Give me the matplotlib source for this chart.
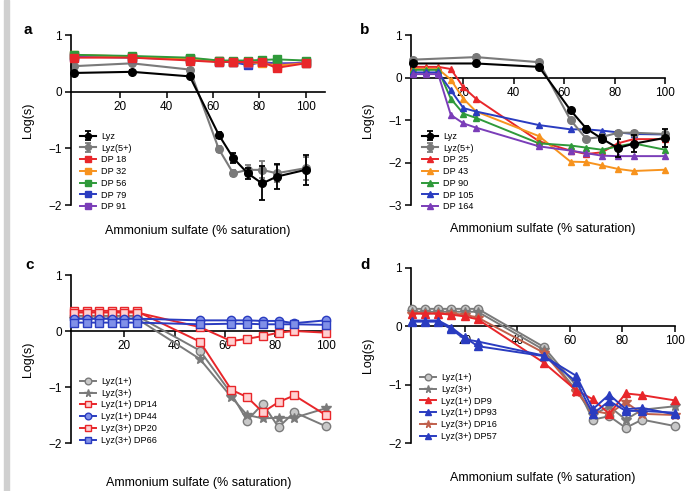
import matplotlib.pyplot as plt
from matplotlib.patches import Rectangle

plt.rcParams['font.family'] = ['Liberation Sans', 'DejaVu Sans']

# Ammonium sulfate levels (% saturation)
x_short = [0, 25, 50, 62.5, 68.75, 75, 81.25, 87.5, 100]
x_long = [0, 5, 10, 15, 20, 25, 50, 62.5, 68.75, 75, 81.25, 87.5, 100]

# Panel a: lysozyme and conjugates, log solubility
a_lyz = [0.33, 0.35, 0.27, -0.76, -1.17, -1.44, -1.62, -1.5, -1.38]
a_lyz_err = [0.03, 0.03, 0.03, 0.05, 0.08, 0.1, 0.3, 0.22, 0.26]
a_lyz5 = [0.45, 0.5, 0.39, -1.01, -1.44, -1.38, -1.38, -1.44, -1.35]
a_lyz5_err = [0.03, 0.03, 0.03, 0.05, 0.05, 0.08, 0.15, 0.15, 0.2]
a_dp18 = [0.6, 0.6, 0.55, 0.52, 0.53, 0.52, 0.52, 0.42, 0.5]
a_dp32 = [0.65, 0.62, 0.58, 0.55, 0.53, 0.52, 0.5, 0.46, 0.5]
a_dp56 = [0.65, 0.63, 0.6, 0.55, 0.55, 0.55, 0.56, 0.57, 0.55]
a_dp79 = [0.62, 0.6, 0.57, 0.53, 0.52, 0.47, 0.52, 0.5, 0.5]
a_dp91 = [0.63, 0.61, 0.58, 0.54, 0.53, 0.5, 0.52, 0.48, 0.52]

# Panel b
b_lyz = [0.33, 0.33, 0.25, -0.77, -1.2, -1.44, -1.66, -1.56, -1.42]
b_lyz_err = [0.03, 0.03, 0.03, 0.05, 0.06, 0.08, 0.22, 0.2, 0.22]
b_lyz5 = [0.42, 0.48, 0.36, -1.0, -1.44, -1.4, -1.3, -1.3, -1.33]
b_dp25 = [0.25, 0.25, 0.25, 0.2, -0.23, -0.5, -1.5, -1.72, -1.8, -1.76, -1.55, -1.45, -1.45]
b_dp43 = [0.2, 0.2, 0.2, -0.05, -0.5, -0.8, -1.38, -1.98, -1.99, -2.07, -2.15, -2.2, -2.17]
b_dp90 = [0.18, 0.18, 0.18, -0.5, -0.85, -0.95, -1.55, -1.6, -1.65, -1.7, -1.62, -1.55, -1.7]
b_dp105 = [0.12, 0.12, 0.12, -0.3, -0.72, -0.8, -1.12, -1.22, -1.22, -1.25, -1.29, -1.33, -1.34]
b_dp164 = [0.08, 0.08, 0.08, -0.88, -1.08, -1.18, -1.62, -1.72, -1.78, -1.84, -1.85, -1.85, -1.85]

# Panel c
c_lyz1 = [0.27, 0.27, 0.27, 0.27, 0.27, 0.27, -0.35, -1.12, -1.6, -1.3, -1.72, -1.45, -1.7]
c_lyz3 = [0.22, 0.22, 0.22, 0.22, 0.22, 0.22, -0.5, -1.18, -1.5, -1.56, -1.55, -1.55, -1.38]
c_dp14 = [0.36, 0.36, 0.36, 0.36, 0.35, 0.35, -0.19, -1.05, -1.18, -1.45, -1.27, -1.15, -1.5]
c_dp44 = [0.22, 0.22, 0.22, 0.22, 0.22, 0.22, 0.19, 0.19, 0.19, 0.18, 0.18, 0.14, 0.19]
c_dp20 = [0.33, 0.33, 0.33, 0.33, 0.33, 0.33, 0.07, -0.18, -0.14, -0.09, -0.03, 0.0, -0.03]
c_dp66 = [0.15, 0.15, 0.15, 0.15, 0.15, 0.15, 0.12, 0.13, 0.13, 0.12, 0.12, 0.12, 0.11]

# Panel d
d_lyz1 = [0.3, 0.3, 0.3, 0.3, 0.3, 0.3, -0.35, -1.02, -1.6, -1.54, -1.74, -1.6, -1.71]
d_lyz3 = [0.25, 0.25, 0.25, 0.25, 0.25, 0.25, -0.4, -1.1, -1.52, -1.37, -1.6, -1.43, -1.37]
d_dp9 = [0.22, 0.22, 0.22, 0.2, 0.17, 0.12, -0.62, -1.1, -1.25, -1.5, -1.15, -1.18, -1.27]
d_dp93 = [0.1, 0.1, 0.1, -0.02, -0.19, -0.34, -0.51, -0.85, -1.42, -1.17, -1.42, -1.4, -1.51]
d_dp16 = [0.22, 0.22, 0.22, 0.22, 0.2, 0.15, -0.45, -1.12, -1.45, -1.5, -1.3, -1.5, -1.52]
d_dp57 = [0.08, 0.08, 0.08, -0.05, -0.22, -0.26, -0.5, -0.95, -1.5, -1.28, -1.45, -1.45, -1.48]

RED = '#e8262a'
ORANGE = '#f7931e'
GREEN = '#2f9a3a'
BLUE = '#2a3cc0'
PURPLE = '#7a3db8'
GRAY = '#7a7a7a'
BROWN = '#c0604c'

fig = plt.figure(figsize=(6.88, 4.91), dpi=100)
W, H = 688.0, 491.0


def make_axes(left, top, right, bottom):
    return fig.add_axes([left / W, 1 - bottom / H, (right - left) / W, (bottom - top) / H])


def style(ax, xlim, ymin, lx, ly, ylx, legend_xy, order):
    ax.set_xlim(*xlim)
    ax.set_ylim(ymin, 1)
    for side in ['top', 'right']:
        ax.spines[side].set_visible(False)
    ax.spines['bottom'].set_position(('data', 0))
    for side in ['left', 'bottom']:
        ax.spines[side].set_linewidth(1.2)
    ax.set_xticks([20, 40, 60, 80, 100])
    ax.set_yticks(range(ymin, 2))
    ax.tick_params(labelsize=8.5, length=4, width=1.1, pad=2.5)
    ax.set_xlabel('Ammonium sulfate (% saturation)', fontsize=9)
    ax.set_ylabel('Log(s)', fontsize=9)
    ax.xaxis.set_label_coords(lx, ly)
    ax.yaxis.set_label_coords(ylx, 0.5)
    ax.patch.set_alpha(0)

    # keep legend entries in plotting order (errorbar handles come last otherwise)
    handles, labels = ax.get_legend_handles_labels()
    lookup = dict(zip(labels, handles))
    ax.legend([lookup[k] for k in order], order, loc='upper left', bbox_to_anchor=legend_xy,
              fontsize=6.6, frameon=False, handlelength=1.8, handletextpad=0.5,
              labelspacing=0.3, borderpad=0, borderaxespad=0, markerscale=0.8)


def series(ax, x, y, color, marker, label, mfc=None, ms=5, z=3):
    ax.plot(x, y, color=color, marker=marker, ms=ms, lw=1.4, label=label,
            mfc=mfc if mfc else color, mec=color, clip_on=False, zorder=z)


def with_errors(ax, x, y, err, color, label, z):
    ax.errorbar(x, y, yerr=err, color=color, marker='o', ms=5.5, lw=1.5, capsize=2.5,
                elinewidth=1.3, capthick=1.3, label=label, clip_on=False, zorder=z)


# a
ax = make_axes(71, 35, 325, 205)
with_errors(ax, x_short, a_lyz5, a_lyz5_err, GRAY, 'Lyz(5+)', 2)
with_errors(ax, x_short, a_lyz, a_lyz_err, 'black', 'Lyz', 2.5)
series(ax, x_short, a_dp79, BLUE, 's', 'DP 79', ms=6, z=3)
series(ax, x_short, a_dp91, PURPLE, 's', 'DP 91', ms=6, z=3)
series(ax, x_short, a_dp32, ORANGE, 's', 'DP 32', ms=6, z=4)
series(ax, x_short, a_dp56, GREEN, 's', 'DP 56', ms=6, z=5)
series(ax, x_short, a_dp18, RED, 's', 'DP 18', ms=6, z=6)
style(ax, (-1.3, 108.4), -2, 0.5, -0.118, -0.146, (0.035, 0.43),
      ['Lyz', 'Lyz(5+)', 'DP 18', 'DP 32', 'DP 56', 'DP 79', 'DP 91'])

# b
ax = make_axes(411, 35, 665, 205)
series(ax, x_long, b_dp25, RED, '^', 'DP 25')
series(ax, x_long, b_dp43, ORANGE, '^', 'DP 43')
series(ax, x_long, b_dp90, GREEN, '^', 'DP 90')
series(ax, x_long, b_dp105, BLUE, '^', 'DP 105')
series(ax, x_long, b_dp164, PURPLE, '^', 'DP 164')
with_errors(ax, x_short, b_lyz5, 0.05, GRAY, 'Lyz(5+)', 5)
with_errors(ax, x_short, b_lyz, b_lyz_err, 'black', 'Lyz', 6)
style(ax, (-0.8, 100), -3, 0.52, -0.105, -0.146, (0.042, 0.43),
      ['Lyz', 'Lyz(5+)', 'DP 25', 'DP 43', 'DP 90', 'DP 105', 'DP 164'])

# c
ax = make_axes(71, 275, 327, 443)
series(ax, x_long, c_lyz1, GRAY, 'o', 'Lyz(1+)', mfc='#c8c8c8', ms=6)
series(ax, x_long, c_lyz3, GRAY, '*', 'Lyz(3+)', ms=7)
series(ax, x_long, c_dp14, RED, 's', 'Lyz(1+) DP14', mfc='#ffd0d0', ms=6, z=4)
series(ax, x_long, c_dp44, BLUE, 'o', 'Lyz(1+) DP44', mfc='#8090e8', ms=6, z=5)
series(ax, x_long, c_dp20, RED, 's', 'Lyz(3+) DP20', mfc='#ffd0d0', ms=6, z=4)
series(ax, x_long, c_dp66, BLUE, 's', 'Lyz(3+) DP66', mfc='#8090e8', ms=6, z=5)
style(ax, (-1.2, 100.5), -2, 0.5, -0.2, -0.146, (0.035, 0.393),
      ['Lyz(1+)', 'Lyz(3+)', 'Lyz(1+) DP14', 'Lyz(1+) DP44', 'Lyz(3+) DP20', 'Lyz(3+) DP66'])

# d
ax = make_axes(411, 268, 675, 443)
series(ax, x_long, d_lyz1, GRAY, 'o', 'Lyz(1+)', mfc='#c8c8c8', ms=6)
series(ax, x_long, d_lyz3, GRAY, '*', 'Lyz(3+)', ms=7)
series(ax, x_long, d_dp16, BROWN, '*', 'Lyz(3+) DP16', ms=7, z=3)
series(ax, x_long, d_dp9, RED, '^', 'Lyz(1+) DP9', ms=6, z=4)
series(ax, x_long, d_dp93, BLUE, '^', 'Lyz(1+) DP93', ms=6, z=4)
series(ax, x_long, d_dp57, BLUE, '^', 'Lyz(3+) DP57', ms=6, z=4)
style(ax, (-0.4, 100), -2, 0.5, -0.164, -0.14, (0.034, 0.4),
      ['Lyz(1+)', 'Lyz(3+)', 'Lyz(1+) DP9', 'Lyz(1+) DP93', 'Lyz(3+) DP16', 'Lyz(3+) DP57'])

# panel letters
for letter, px, py in [('a', 28, 30), ('b', 365, 30), ('c', 30, 265), ('d', 365, 265)]:
    fig.text(px / W, 1 - py / H, letter, fontsize=11, fontweight='bold', ha='center', va='center')

# grey margin strip on the left
fig.patches.append(Rectangle((4 / W, 0), 5 / W, 1, transform=fig.transFigure,
                             color='#d0d0d0', zorder=0))

plt.savefig('out.png', dpi=100)
